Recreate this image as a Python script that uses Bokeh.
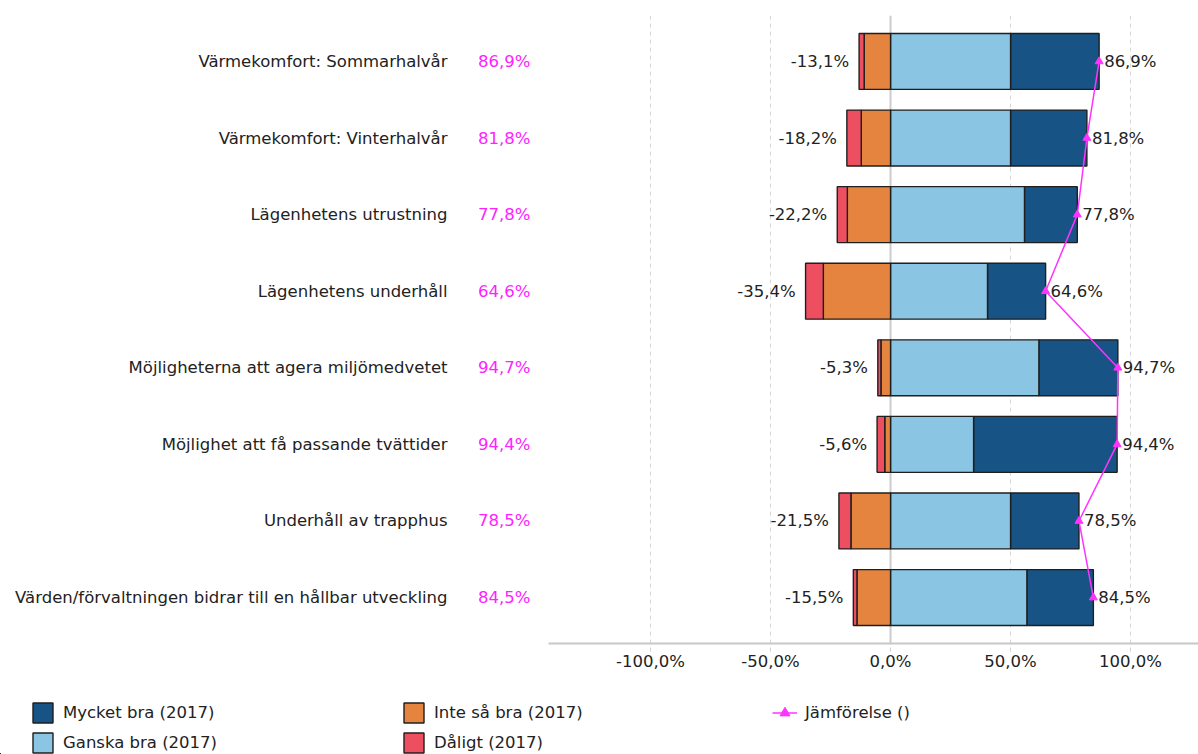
from bokeh.plotting import figure
from bokeh.models import (ColumnDataSource, Range1d, FixedTicker, LinearAxis, Grid,
                          Legend, LegendItem)
from bokeh.core.properties import value
from bokeh.embed import file_html
from bokeh.resources import INLINE

categories = [
    "Värmekomfort: Sommarhalvår",
    "Värmekomfort: Vinterhalvår",
    "Lägenhetens utrustning",
    "Lägenhetens underhåll",
    "Möjligheterna att agera miljömedvetet",
    "Möjlighet att få passande tvättider",
    "Underhåll av trapphus",
    "Värden/förvaltningen bidrar till en hållbar utveckling",
]
mycket_bra = [36.9, 31.8, 22.0, 24.2, 32.9, 59.8, 28.5, 27.7]
ganska_bra = [50.0, 50.0, 55.8, 40.4, 61.8, 34.6, 50.0, 56.8]
inte_sa_bra = [11.0, 12.2, 18.0, 28.0, 4.0, 2.4, 16.5, 14.0]
daligt = [2.1, 6.0, 4.2, 7.4, 1.3, 3.2, 5.0, 1.5]
jamforelse = [86.9, 81.8, 77.8, 64.6, 94.7, 94.4, 78.5, 84.5]

x_ticks = [-100, -50, 0, 50, 100]
x_tick_labels = ["-100,0%", "-50,0%", "0,0%", "50,0%", "100,0%"]

series_names = ["Mycket bra (2017)", "Ganska bra (2017)", "Inte så bra (2017)", "Dåligt (2017)"]
series_colors = ["#175384", "#8ac6e3", "#e5843f", "#ee4f60"]
comparison_name = "Jämförelse ()"
comparison_color = "#ff33ff"

FONT = "DejaVu Sans"
FS = "16.5px"
BAR_LINE = dict(line_color="#1f1f1f", line_width=1.4)


def fmt(v):
    return f"{v:.1f}".replace(".", ",") + "%"


rows = list(range(len(categories)))
pos_total = [round(m + g, 1) for m, g in zip(mycket_bra, ganska_bra)]
neg_total = [round(i + d, 1) for i, d in zip(inte_sa_bra, daligt)]

src = ColumnDataSource(dict(
    y=rows,
    g_right=ganska_bra,
    m_right=pos_total,
    i_left=[-v for v in inte_sa_bra],
    d_left=[-v for v in neg_total],
    zero=[0] * len(rows),
    pos=pos_total,
    neg=[-v for v in neg_total],
    pos_lbl=[fmt(v) for v in pos_total],
    neg_lbl=[fmt(-v) for v in neg_total],
    comp=jamforelse,
))

p = figure(width=1198, height=682, output_backend="svg", toolbar_location=None,
           x_range=Range1d(-142.5, 128.3), y_range=Range1d(7.6, -0.6),
           min_border_left=548, min_border_right=0, min_border_top=15,
           min_border_bottom=39)
p.outline_line_color = None

# grids
p.xgrid.ticker = FixedTicker(ticks=[t for t in x_ticks if t != 0])
p.xgrid.grid_line_color = "#d6d6d6"
p.xgrid.grid_line_dash = "4 4"
p.xgrid.grid_line_width = 1
p.ygrid.visible = False
p.add_layout(Grid(dimension=0, ticker=FixedTicker(ticks=[0]),
                  grid_line_color="#cccccc", grid_line_width=2))


def add_series(fig):
    h = 0.73
    rs = [
        fig.hbar(y="y", left="g_right", right="m_right", height=h, source=src,
                 fill_color=series_colors[0], **BAR_LINE),
        fig.hbar(y="y", left="zero", right="g_right", height=h, source=src,
                 fill_color=series_colors[1], **BAR_LINE),
        fig.hbar(y="y", left="i_left", right="zero", height=h, source=src,
                 fill_color=series_colors[2], **BAR_LINE),
        fig.hbar(y="y", left="d_left", right="i_left", height=h, source=src,
                 fill_color=series_colors[3], **BAR_LINE),
    ]
    rl = fig.line(x="comp", y="y", source=src, line_color=comparison_color,
                  line_width=1.5)
    rm = fig.scatter(x="comp", y="y", source=src, marker="triangle", size=8,
                     fill_color=comparison_color, line_color=comparison_color)
    return rs, rl, rm


add_series(p)

p.text(x="pos", y="y", text="pos_lbl", source=src, x_offset=5,
       text_align="left", text_baseline="middle", text_font=value(FONT),
       text_font_size=FS, text_color="#222222")
p.text(x="neg", y="y", text="neg_lbl", source=src, x_offset=-10,
       text_align="right", text_baseline="middle", text_font=value(FONT),
       text_font_size=FS, text_color="#222222")

# x axis
xa = p.xaxis[0]
xa.ticker = FixedTicker(ticks=x_ticks)
xa.major_label_overrides = dict(zip(x_ticks, x_tick_labels))
xa.axis_line_color = "#c8c8c8"
xa.axis_line_width = 2
xa.major_tick_out = 8
xa.major_tick_in = 0
xa.major_tick_line_color = "#d0d0d0"
xa.major_tick_line_dash = "4 3"
xa.minor_tick_line_color = None
xa.major_label_standoff = 0
xa.major_label_text_font = FONT
xa.major_label_text_font_size = FS
xa.major_label_text_color = "#222222"

# inner y axis: magenta percentages
ya = p.yaxis[0]
ya.ticker = FixedTicker(ticks=rows)
ya.major_label_overrides = {r: fmt(v) for r, v in zip(rows, pos_total)}
ya.axis_line_color = None
ya.major_tick_line_color = None
ya.minor_tick_line_color = None
ya.major_tick_out = 0
ya.major_tick_in = 0
ya.major_label_standoff = 18
ya.major_label_text_font = FONT
ya.major_label_text_font_size = FS
ya.major_label_text_color = "#ff22ff"

# outer y axis: category names
yb = LinearAxis(ticker=FixedTicker(ticks=rows),
                major_label_overrides={r: c for r, c in zip(rows, categories)},
                axis_line_color=None, major_tick_line_color=None,
                minor_tick_line_color=None, major_tick_out=0, major_tick_in=0,
                major_label_standoff=28, major_label_text_font=FONT,
                major_label_text_font_size=FS, major_label_text_color="#222222")
p.add_layout(yb, "left")

# legend strip below the chart (its glyphs lie outside its view ranges)
pl = figure(width=1198, height=72, output_backend="svg", toolbar_location=None,
            x_range=Range1d(1000, 1001), y_range=Range1d(1000, 1001),
            x_axis_type=None, y_axis_type=None,
            min_border_left=0, min_border_right=0, min_border_top=0,
            min_border_bottom=0)
pl.outline_line_color = None
pl.grid.visible = False

bar_rs, line_r, mark_r = add_series(pl)
items = [LegendItem(label=n, renderers=[r]) for n, r in zip(series_names, bar_rs)]
items.append(LegendItem(label=comparison_name, renderers=[line_r, mark_r]))

legend = Legend(items=items, location=(30, -1), orientation="vertical", nrows=2,
                glyph_width=25, glyph_height=25, label_standoff=8, label_width=333,
                spacing=5, padding=0, margin=0, border_line_color=None,
                background_fill_alpha=0, label_text_font=FONT,
                label_text_font_size=FS, label_text_color="#222222")
pl.add_layout(legend)

open("out.html", "w").write(file_html([p, pl], INLINE))
